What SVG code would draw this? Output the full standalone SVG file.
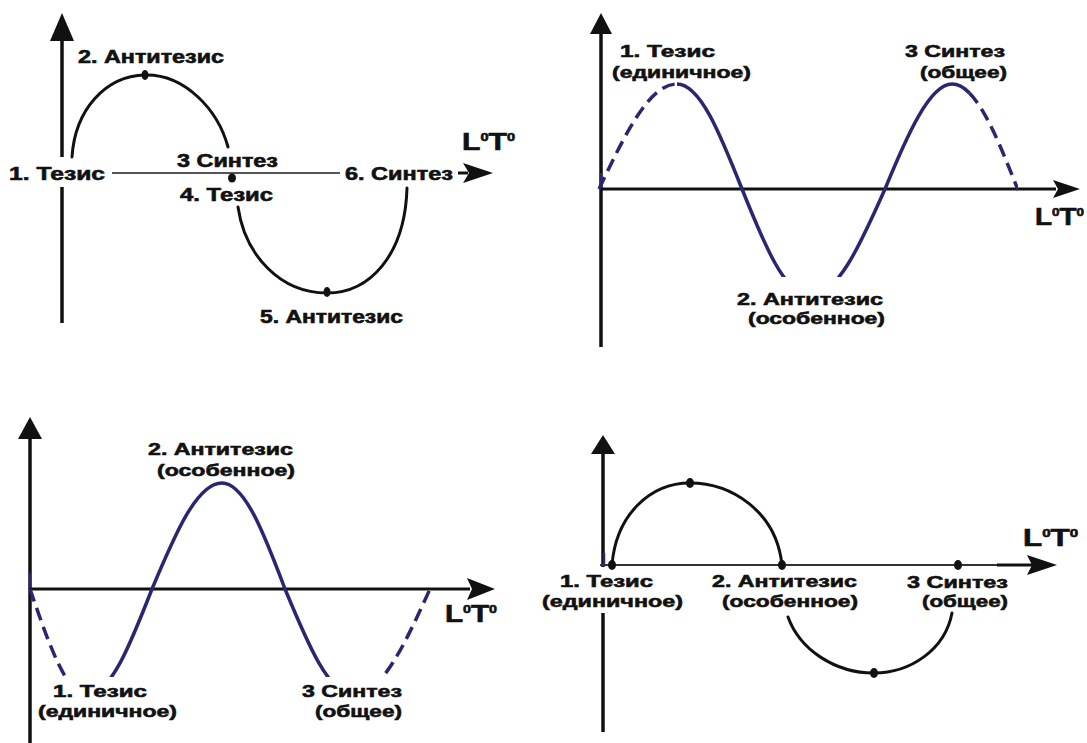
<svg xmlns="http://www.w3.org/2000/svg" width="1087" height="743" viewBox="0 0 1087 743">
<style>
  .lbl { font-family: "Liberation Sans", Arial, sans-serif; font-weight: bold; font-size: 18px; fill: #111; stroke: #111; stroke-width: 0.6; }
  .sm { font-size: 17px; }
  .axl { font-family: "Liberation Sans", Arial, sans-serif; font-weight: bold; font-size: 23px; fill: #111; stroke: #111; stroke-width: 0.6; }
  .sup { font-size: 11px; }
  .vaxis { stroke: #111; stroke-width: 3.5; fill: none; }
  .haxis { stroke: #111; stroke-width: 3; fill: none; }
  .haxis-thin { stroke: #555; stroke-width: 2; fill: none; }
  .head { fill: #111; stroke: none; }
  .curve-k { stroke: #111; stroke-width: 3; fill: none; stroke-linecap: round; }
  .curve-b { stroke: #2a2670; stroke-width: 3.5; fill: none; }
  .dash { stroke-dasharray: 13 7; }
  .dot { fill: #111; }
  .mark { stroke: #2a2670; stroke-width: 2.5; }
</style>
<defs>
  <clipPath id="clip2"><rect x="590" y="0" width="428" height="277"/></clipPath>
  <clipPath id="clip3"><rect x="28" y="400" width="405" height="277"/></clipPath>
</defs>
<rect width="1087" height="743" fill="#fff"/>

<!-- ============ Panel 1 (top-left) ============ -->
<g id="panel1">
  <g id="p1-axes">
    <line class="vaxis" x1="62" y1="38" x2="62" y2="157"/>
    <line class="vaxis" x1="62" y1="187" x2="62" y2="323"/>
    <polygon class="head" points="62,13 74,41 50,41"/>
    <line class="haxis-thin" x1="112" y1="173" x2="340" y2="173"/>
    <line class="haxis" x1="458" y1="173" x2="468" y2="173"/>
    <polygon class="head" points="493,173 463,163 469,173 463,183"/>
  </g>
  <g id="p1-curve">
    <path class="curve-k" d="M72,157 C75,110 105,76 145,75 C185,74 218,110 228,147"/>
    <path class="curve-k" d="M238,207 C245,255 280,293 327,293 C370,293 405,255 407,188"/>
    <ellipse class="dot" cx="145" cy="75" rx="3.5" ry="5"/>
    <ellipse class="dot" cx="232" cy="178" rx="4" ry="4.5"/>
    <ellipse class="dot" cx="327" cy="292" rx="3.5" ry="5"/>
  </g>
  <g id="p1-n2"><text class="lbl" x="78" y="63" textLength="146" lengthAdjust="spacingAndGlyphs">2. Антитезис</text></g>
  <g id="p1-n1"><text class="lbl" x="9" y="180" textLength="96" lengthAdjust="spacingAndGlyphs">1. Тезис</text></g>
  <g id="p1-n3"><text class="lbl" x="177" y="167" textLength="101" lengthAdjust="spacingAndGlyphs">3 Синтез</text></g>
  <g id="p1-n4"><text class="lbl" x="180" y="201" textLength="93" lengthAdjust="spacingAndGlyphs">4. Тезис</text></g>
  <g id="p1-n6"><text class="lbl" x="345" y="180" textLength="108" lengthAdjust="spacingAndGlyphs">6. Синтез</text></g>
  <g id="p1-n5"><text class="lbl" x="260" y="323" textLength="143" lengthAdjust="spacingAndGlyphs">5. Антитезис</text></g>
  <g id="p1-axlabel"><text class="axl" x="462" y="150" textLength="53" lengthAdjust="spacingAndGlyphs">L<tspan class="sup" dy="-9">0</tspan><tspan dy="9">T</tspan><tspan class="sup" dy="-9">0</tspan></text></g>
</g>

<!-- ============ Panel 2 (top-right) ============ -->
<g id="panel2">
  <g id="p2-axes">
    <line class="vaxis" x1="601" y1="30" x2="601" y2="347"/>
    <polygon class="head" points="601,13 612,34 590,34"/>
    <line class="haxis" x1="600" y1="189" x2="1056" y2="189"/>
    <polygon class="head" points="1080,189 1053,180 1058,189 1053,198"/>
  </g>
  <g id="p2-curve" clip-path="url(#clip2)">
    <path class="curve-b dash" d="M599,189 C624.4,135.7 648.8,84 677,84"/>
    <path class="curve-b" d="M677,84 C700.5,84 720.8,135.7 742,189 C764.2,244.3 785.4,296 810,296 C837.2,296 860.5,244.3 885,189 C906.8,135.7 929.7,84 952,84 C957.98,84 963.75,87.23 969.38,92.93"/>
    <path class="curve-b dash" d="M969.38,92.93 C986.26,110.02 1001.88,149.28 1018,190"/>
  </g>
  <line class="mark" x1="601" y1="173" x2="601" y2="187"/>
  <g id="p2-n1">
    <text class="lbl sm" x="620" y="57" textLength="95" lengthAdjust="spacingAndGlyphs">1. Тезис</text>
    <text class="lbl sm" x="612" y="78" textLength="139" lengthAdjust="spacingAndGlyphs">(единичное)</text>
  </g>
  <g id="p2-n3">
    <text class="lbl sm" x="905" y="57" textLength="100" lengthAdjust="spacingAndGlyphs">3 Синтез</text>
    <text class="lbl sm" x="920" y="78" textLength="87" lengthAdjust="spacingAndGlyphs">(общее)</text>
  </g>
  <g id="p2-n2">
    <text class="lbl sm" x="737" y="305" textLength="146" lengthAdjust="spacingAndGlyphs">2. Антитезис</text>
    <text class="lbl sm" x="748" y="324" textLength="137" lengthAdjust="spacingAndGlyphs">(особенное)</text>
  </g>
  <g id="p2-axlabel"><text class="axl" x="1035" y="225" textLength="49" lengthAdjust="spacingAndGlyphs">L<tspan class="sup" dy="-9">0</tspan><tspan dy="9">T</tspan><tspan class="sup" dy="-9">0</tspan></text></g>
</g>

<!-- ============ Panel 3 (bottom-left) ============ -->
<g id="panel3">
  <g id="p3-axes">
    <line class="vaxis" x1="30" y1="435" x2="30" y2="743"/>
    <polygon class="head" points="30,417 42,439 18,439"/>
    <line class="haxis" x1="30" y1="589" x2="470" y2="589"/>
    <polygon class="head" points="495,589 467,578 472,589 467,600"/>
  </g>
  <g id="p3-curve" clip-path="url(#clip3)">
    <path class="curve-b dash" d="M30,589 C48.6,643.3 66.4,695 87,695"/>
    <path class="curve-b" d="M87,695 C110.5,695 130.8,643.3 152,589 C174.8,534.7 196.7,483 222,483 C244.8,483 264.5,534.7 285,589 C307.5,643.3 329,695 354,695"/>
    <path class="curve-b dash" d="M354,695 C381.5,695 405.2,643.3 430,589"/>
  </g>
  <line class="mark" x1="30" y1="573" x2="30" y2="588"/>
  <g id="p3-n2">
    <text class="lbl sm" x="148" y="455" textLength="145" lengthAdjust="spacingAndGlyphs">2. Антитезис</text>
    <text class="lbl sm" x="157" y="476" textLength="138" lengthAdjust="spacingAndGlyphs">(особенное)</text>
  </g>
  <g id="p3-n1">
    <text class="lbl sm" x="53" y="697" textLength="94" lengthAdjust="spacingAndGlyphs">1. Тезис</text>
    <text class="lbl sm" x="38" y="717" textLength="139" lengthAdjust="spacingAndGlyphs">(единичное)</text>
  </g>
  <g id="p3-n3">
    <text class="lbl sm" x="302" y="697" textLength="100" lengthAdjust="spacingAndGlyphs">3 Синтез</text>
    <text class="lbl sm" x="315" y="717" textLength="87" lengthAdjust="spacingAndGlyphs">(общее)</text>
  </g>
  <g id="p3-axlabel"><text class="axl" x="445" y="622" textLength="52" lengthAdjust="spacingAndGlyphs">L<tspan class="sup" dy="-9">0</tspan><tspan dy="9">T</tspan><tspan class="sup" dy="-9">0</tspan></text></g>
</g>

<!-- ============ Panel 4 (bottom-right) ============ -->
<g id="panel4">
  <g id="p4-axes">
    <line class="vaxis" x1="603" y1="450" x2="603" y2="567"/>
    <line class="vaxis" x1="603" y1="613" x2="603" y2="732"/>
    <polygon class="head" points="603,435 615,454 591,454"/>
    <line class="haxis-thin" x1="600" y1="565" x2="998" y2="565" style="stroke:#333"/>
    <line class="haxis" x1="997" y1="565" x2="1032" y2="565"/>
    <polygon class="head" points="1057,565 1027,555 1032,565 1027,575"/>
  </g>
  <g id="p4-curve">
    <path class="curve-k" d="M612,565 C616,515 650,483 690,483 C730,483 776,510 782,565"/>
    <path class="curve-k" d="M788,617 C800,650 835,673 874,673 C910,673 945,650 952,613"/>
    <line class="mark" x1="604" y1="553" x2="604" y2="565"/>
    <ellipse class="dot" cx="612" cy="565" rx="4" ry="5"/>
    <ellipse class="dot" cx="690" cy="483" rx="4" ry="5"/>
    <ellipse class="dot" cx="782" cy="565" rx="4" ry="5"/>
    <ellipse class="dot" cx="874" cy="673" rx="4" ry="5"/>
    <ellipse class="dot" cx="958" cy="565" rx="4" ry="5"/>
  </g>
  <g id="p4-n1">
    <text class="lbl sm" x="560" y="587" textLength="93" lengthAdjust="spacingAndGlyphs">1. Тезис</text>
    <text class="lbl sm" x="542" y="607" textLength="141" lengthAdjust="spacingAndGlyphs">(единичное)</text>
  </g>
  <g id="p4-n2">
    <text class="lbl sm" x="712" y="587" textLength="145" lengthAdjust="spacingAndGlyphs">2. Антитезис</text>
    <text class="lbl sm" x="722" y="607" textLength="136" lengthAdjust="spacingAndGlyphs">(особенное)</text>
  </g>
  <g id="p4-n3">
    <text class="lbl sm" x="907" y="588" textLength="101" lengthAdjust="spacingAndGlyphs">3 Синтез</text>
    <text class="lbl sm" x="922" y="607" textLength="86" lengthAdjust="spacingAndGlyphs">(общее)</text>
  </g>
  <g id="p4-axlabel"><text class="axl" x="1023" y="546" textLength="55" lengthAdjust="spacingAndGlyphs">L<tspan class="sup" dy="-9">0</tspan><tspan dy="9">T</tspan><tspan class="sup" dy="-9">0</tspan></text></g>
</g>
</svg>
